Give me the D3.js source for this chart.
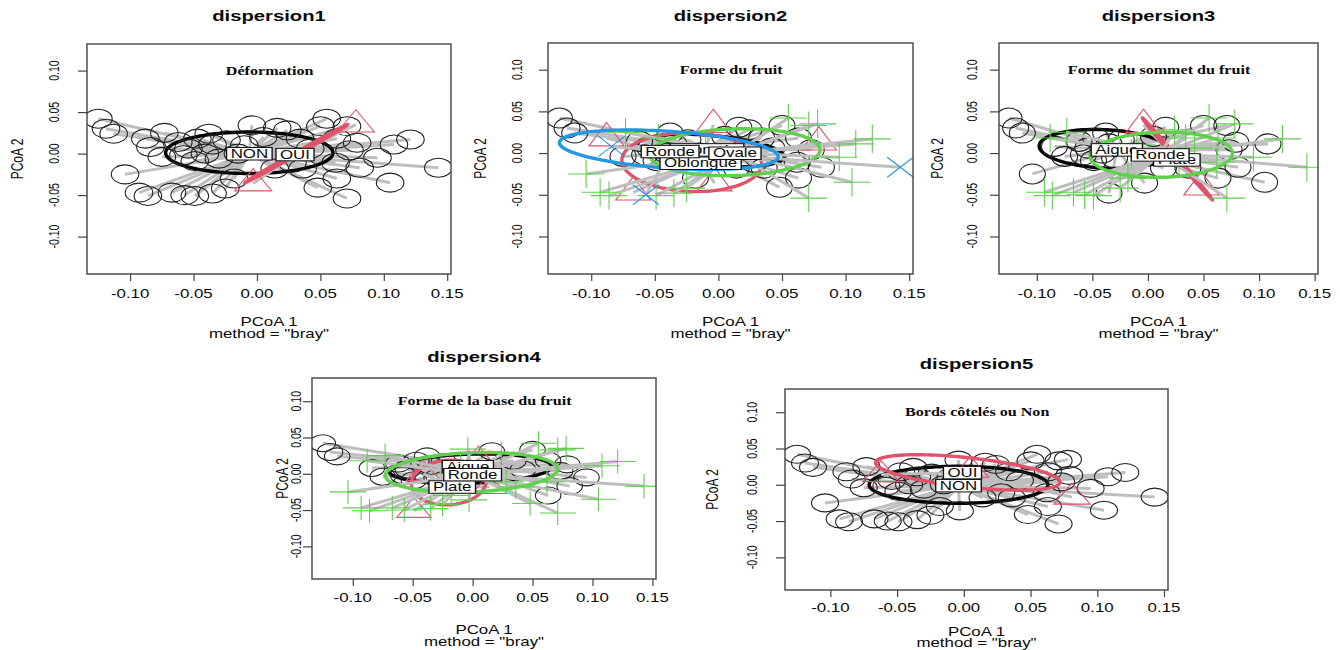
<!DOCTYPE html>
<html>
<head>
<meta charset="utf-8">
<title>dispersion</title>
<script src="https://d3js.org/d3.v7.min.js"></script>
<style>
  body { margin: 0; background: #fff; }
  svg { display: block; }
  text { font-family: "Liberation Sans", Arial, sans-serif; fill: #0a0a0a; }
</style>
</head>
<body>
<script>
// PCoA scores of the 55 samples (same ordination in every panel)
const pcoa1 = [-0.125, -0.119, -0.113, -0.104, -0.093, -0.086, -0.088, -0.084, -0.073, -0.075,
  -0.067, -0.057, -0.049, -0.035, -0.025, -0.062, -0.054, -0.047, -0.041, -0.035,
  -0.049, -0.030, -0.058, -0.024, -0.038, -0.018, -0.004, 0.016, 0.014, 0.024,
  0.050, 0.071, 0.063, 0.079, 0.073, 0.062, 0.081, 0.095, 0.108, 0.121,
  0.143, 0.105, 0.063, 0.048, 0.071, 0.036, 0.042, 0.034, 0.028, 0.078,
  -0.003, -0.010, 0.005, 0.055, -0.015]
const pcoa2 = [0.042, 0.030, 0.024, -0.025, -0.047, -0.051, 0.018, 0.008, 0.025, -0.004,
  -0.047, -0.050, -0.051, -0.048, -0.042, 0.014, 0.006, 0.018, 0.000, 0.011,
  -0.009, -0.006, -0.002, 0.016, 0.024, -0.030, 0.034, 0.031, -0.018, 0.028,
  0.033, 0.033, 0.018, 0.013, 0.004, -0.011, -0.017, -0.005, 0.011, 0.017,
  -0.017, -0.035, -0.030, -0.041, -0.054, -0.018, 0.006, 0.018, -0.011, 0.035,
  -0.036, 0.010, 0.020, 0.042, 0.000]

const xTicks = [-0.10, -0.05, 0.00, 0.05, 0.10, 0.15]
const xTickLabels = ['-0.10', '-0.05', '0.00', '0.05', '0.10', '0.15']
const yTicks = [-0.10, -0.05, 0.00, 0.05, 0.10]
const yTickLabels = ['-0.10', '-0.05', '0.00', '0.05', '0.10']
const xDomain = [-0.134, 0.153]
const yDomain = [-0.145, 0.132]

const titles = ['dispersion1', 'dispersion2', 'dispersion3', 'dispersion4', 'dispersion5']
const subtitles = ['Déformation', 'Forme du fruit', 'Forme du sommet du fruit',
  'Forme de la base du fruit', 'Bords côtelés ou Non']

// group levels, membership of each sample, centroids and sd ellipses [cx, cy, a, b, angle]
const levels1 = ['NON', 'OUI']
const group1 = [0,0,0,0,0,0,0,0,0,0, 0,0,0,0,0,0,0,0,0,0, 0,0,0,0,0,0,0,0,0,0,
  0,0,0,0,0,0,0,0,0,0, 0,0,0,0,0,0,0,0,0,1, 1,0,0,0,0]
const centroids1 = [[-0.006, 0.000], [0.030, -0.001]]
const ellipses1 = [[-0.006, 0.001, 0.066, 0.025, 0], [0.031, 0.000, 0.0535, 0.0015, 40.8]]

const levels2 = ['Allongée', 'Oblongue', 'Ovale', 'Ronde']
const group2 = [0,0,0,2,2,2,1,3,2,0, 1,3,2,2,2,0,0,2,0,0, 0,0,0,0,0,0,1,0,0,0,
  0,2,0,1,0,0,0,2,2,2, 3,2,0,0,2,0,0,0,0,2, 1,2,0,2,0]
const centroids2 = [[-0.009, 0.004], [-0.014, -0.012], [0.013, 0.000], [-0.038, 0.002]]
const ellipses2 = [[-0.006, 0.003, 0.058, 0.018, -8], [-0.021, -0.011, 0.055, 0.035, -4],
  [0.013, 0.001, 0.067, 0.028, 3], [-0.039, 0.004, 0.0865, 0.022, -6]]

const levels3 = ['Aigue', 'Plate', 'Ronde']
const group3 = [0,0,0,0,2,2,2,0,2,0, 2,2,2,0,2,0,0,0,0,0, 0,0,0,0,0,2,1,0,0,2,
  0,0,2,0,0,2,0,2,0,2, 2,0,0,1,2,0,2,2,2,2, 0,2,0,2,2]
const centroids3 = [[-0.028, 0.004], [0.026, -0.008], [0.011, -0.002]]
const ellipses3 = [[-0.039, 0.005, 0.059, 0.023, -4], [0.0265, -0.007, 0.0583, 0.0015, -57.3],
  [0.012, -0.002, 0.064, 0.027, 2]]

const levels4 = ['Aigue', 'Plate', 'Ronde']
const group4 = [0,0,0,2,2,2,2,0,2,0, 2,2,1,2,2,0,0,0,1,0, 0,0,0,0,0,2,2,0,1,2,
  0,2,0,0,0,2,0,0,2,2, 2,2,0,2,2,2,0,0,2,2, 2,2,1,2,2]
const centroids4 = [[-0.004, 0.010], [-0.017, -0.018], [0.000, -0.001]]
const ellipses4 = [[-0.002, 0.007, 0.068, 0.020, 3], [-0.020, -0.012, 0.032, 0.030, 40],
  [-0.001, 0.002, 0.072, 0.027, 4]]

const levels5 = ['NON', 'OUI']
const group5 = [0,0,0,0,0,0,0,0,0,0, 0,0,0,0,0,1,0,0,0,0, 0,0,0,0,0,0,0,0,0,0,
  0,0,0,0,0,0,1,0,0,0, 0,0,0,0,0,0,0,0,0,0, 0,0,1,0,0]
const centroids5 = [[-0.004, -0.001], [-0.001, 0.017]]
const ellipses5 = [[-0.004, 0.000, 0.067, 0.0255, 0], [0.003, 0.017, 0.0705, 0.020, -12]]

const groupColors = ['#000000', '#DF536B', '#61D04F', '#2297E6']
const segColor = '#BEBEBE'

// where each panel sits on the page
const layout = [
  { left: 87, right: 451, top: 44, bottom: 274, titleY: 21, tickY: 298, lab1Y: 326, lab2Y: 338, yTickX: 54, yLabX: 17, r: 9.5, sx: 1.45 },
  { left: 548, right: 913, top: 43, bottom: 274, titleY: 21, tickY: 298, lab1Y: 326, lab2Y: 338, yTickX: 517, yLabX: 480, r: 10, sx: 1.3 },
  { left: 999, right: 1318, top: 43, bottom: 274, titleY: 21, tickY: 298, lab1Y: 326, lab2Y: 338, yTickX: 972, yLabX: 937, r: 10, sx: 1.3 },
  { left: 312, right: 656, top: 378, bottom: 579, titleY: 362, tickY: 602, lab1Y: 634, lab2Y: 646, yTickX: 296, yLabX: 282, r: 8.5, sx: 1.5 },
  { left: 785, right: 1168, top: 389, bottom: 590, titleY: 369, tickY: 612, lab1Y: 636, lab2Y: 647, yTickX: 752, yLabX: 712, r: 9, sx: 1.5 }
]
const panelData = [
  { levels: levels1, group: group1, centroids: centroids1, ellipses: ellipses1 },
  { levels: levels2, group: group2, centroids: centroids2, ellipses: ellipses2 },
  { levels: levels3, group: group3, centroids: centroids3, ellipses: ellipses3 },
  { levels: levels4, group: group4, centroids: centroids4, ellipses: ellipses4 },
  { levels: levels5, group: group5, centroids: centroids5, ellipses: ellipses5 }
]

const textSx = 1.35

const svg = d3.select('body').append('svg')
  .attr('width', 1340)
  .attr('height', 650)

// text stretched horizontally like the original bitmap
function stext (parent, x, y, str, size, opts = {}) {
  const g = parent.append('g')
    .attr('transform', `translate(${x},${y}) scale(${opts.sx || textSx},1)` + (opts.rotate ? ' rotate(-90)' : ''))
  const t = g.append('text')
    .attr('text-anchor', 'middle')
    .attr('font-size', size)
    .text(str)
  if (opts.bold) t.attr('font-weight', 'bold')
  if (opts.serif) t.style('font-family', '"Liberation Serif", "Times New Roman", serif')
  if (opts.dy) t.attr('dy', opts.dy)
  return g
}

// R pch 1..4 (circle, triangle, plus, cross)
function symbolPath (shape, rx, ry) {
  if (shape === 0) return `M${-rx},0A${rx},${ry} 0 1,0 ${rx},0A${rx},${ry} 0 1,0 ${-rx},0Z`
  if (shape === 1) return `M0,${-1.555 * ry}L${1.347 * rx},${0.778 * ry}L${-1.347 * rx},${0.778 * ry}Z`
  if (shape === 2) return `M${-1.414 * rx},0H${1.414 * rx}M0,${-1.414 * ry}V${1.414 * ry}`
  return `M${-rx},${-ry}L${rx},${ry}M${-rx},${ry}L${rx},${-ry}`
}

function ellipsePoints (e) {
  const [cx, cy, a, b, ang] = e
  const th = ang * Math.PI / 180
  return d3.range(0, 120).map(i => {
    const t = i / 120 * 2 * Math.PI
    return [cx + a * Math.cos(t) * Math.cos(th) - b * Math.sin(t) * Math.sin(th),
      cy + a * Math.cos(t) * Math.sin(th) + b * Math.sin(t) * Math.cos(th)]
  })
}

layout.forEach((L, p) => {
  const D = panelData[p]
  const g = svg.append('g')
  const x = d3.scaleLinear().domain(xDomain).range([L.left, L.right])
  const y = d3.scaleLinear().domain(yDomain).range([L.bottom, L.top])

  const clipId = 'clip' + p
  svg.append('clipPath').attr('id', clipId)
    .append('rect')
    .attr('x', L.left).attr('y', L.top)
    .attr('width', L.right - L.left).attr('height', L.bottom - L.top)

  const plot = g.append('g').attr('clip-path', `url(#${clipId})`)
  const line = d3.line().x(d => x(d[0])).y(d => y(d[1])).curve(d3.curveLinearClosed)
  const idx = d3.range(pcoa1.length)

  D.levels.forEach((lev, k) => {
    const members = idx.filter(i => D.group[i] === k)
    const c = D.centroids[k]
    plot.selectAll(null)
      .data(members).enter()
      .append('line')
        .attr('x1', i => x(pcoa1[i])).attr('y1', i => y(pcoa2[i]))
        .attr('x2', x(c[0])).attr('y2', y(c[1]))
        .attr('stroke', segColor)
        .attr('stroke-width', 3)
    plot.append('path')
      .attr('d', line(ellipsePoints(D.ellipses[k])))
      .attr('fill', 'none')
      .attr('stroke', groupColors[k])
      .attr('stroke-width', 3.4)
    plot.selectAll(null)
      .data(members).enter()
      .append('path')
        .attr('transform', i => `translate(${x(pcoa1[i])},${y(pcoa2[i])})`)
        .attr('d', symbolPath(k, L.r * L.sx, L.r))
        .attr('fill', 'none')
        .attr('stroke', k === 0 ? '#222' : groupColors[k])
        .attr('stroke-width', 1.1)
  })

  // centroid labels (white boxes)
  D.levels.forEach((lev, k) => {
    const c = D.centroids[k]
    const lg = stext(g, x(c[0]), y(c[1]), lev, 12.5, { dy: '0.35em' })
    const bb = lg.select('text').node().getBBox()
    lg.insert('rect', 'text')
      .attr('x', bb.x - 3).attr('y', bb.y + 0.5)
      .attr('width', bb.width + 6).attr('height', bb.height - 1)
      .attr('fill', 'white')
      .attr('stroke', '#111')
      .attr('stroke-width', 1)
  })

  // frame
  g.append('rect')
    .attr('x', L.left).attr('y', L.top)
    .attr('width', L.right - L.left).attr('height', L.bottom - L.top)
    .attr('fill', 'none')
    .attr('stroke', '#444')
    .attr('stroke-width', 1.4)

  // axes (tick marks only, labels drawn stretched)
  const xAxis = g.append('g')
    .attr('transform', `translate(0,${L.bottom})`)
    .call(d3.axisBottom(x).tickValues(xTicks).tickSize(7).tickFormat(''))
  xAxis.select('.domain').remove()
  xAxis.selectAll('line').attr('stroke', '#444').attr('stroke-width', 1.2)
  const yAxis = g.append('g')
    .attr('transform', `translate(${L.left},0)`)
    .call(d3.axisLeft(y).tickValues(yTicks).tickSize(9).tickFormat(''))
  yAxis.select('.domain').remove()
  yAxis.selectAll('line').attr('stroke', '#444').attr('stroke-width', 1.2)

  xTicks.forEach((v, i) => stext(g, x(v), L.tickY, xTickLabels[i], 12.5))
  yTicks.forEach((v, i) => stext(g, L.yTickX, y(v), yTickLabels[i], 10.5, { rotate: true, dy: '0.35em' }))

  stext(g, (L.left + L.right) / 2, L.titleY, titles[p], 15, { bold: true })
  stext(g, x(0.01), y(0.10), subtitles[p], 11.5, { bold: true, serif: true, dy: '0.35em', sx: 1.4 })
  stext(g, (L.left + L.right) / 2, L.lab1Y, 'PCoA 1', 12.5)
  stext(g, (L.left + L.right) / 2, L.lab2Y, 'method = "bray"', 12.5)
  stext(g, L.yLabX, (L.top + L.bottom) / 2, 'PCoA 2', 12, { rotate: true, dy: '0.35em' })
})
</script>
</body>
</html>
